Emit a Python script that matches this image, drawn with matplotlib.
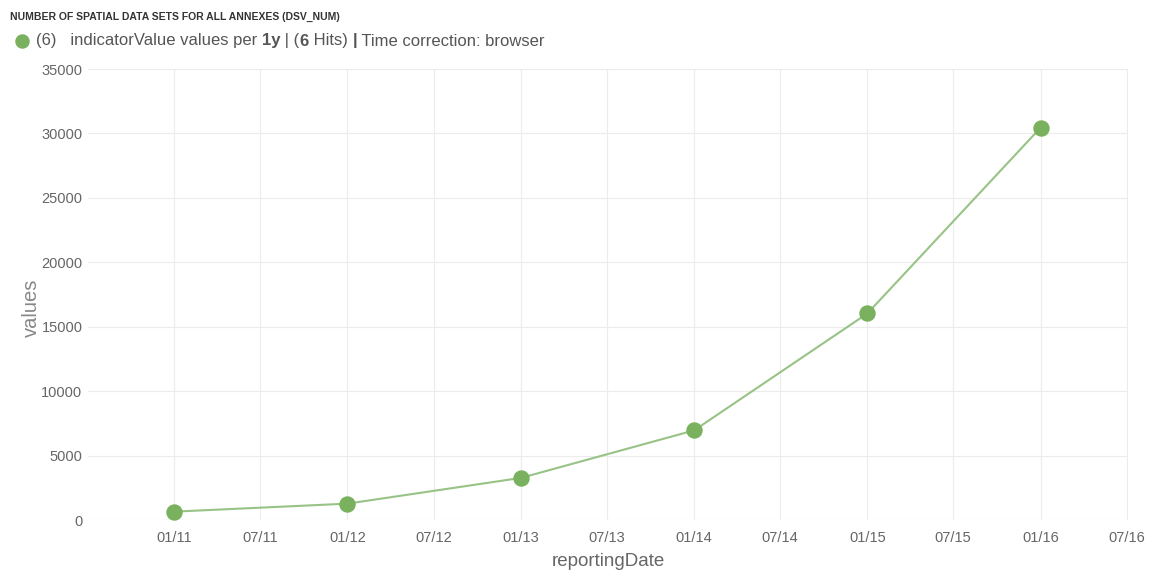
import numpy as np
import matplotlib
matplotlib.use("Agg")
import matplotlib.pyplot as plt
import matplotlib.dates as mdates
from matplotlib.lines import Line2D
from datetime import datetime

plt.rcParams['font.family'] = ['Liberation Sans', 'DejaVu Sans']

# data
dates = [datetime(2011, 1, 1), datetime(2012, 1, 1), datetime(2013, 1, 1),
         datetime(2014, 1, 1), datetime(2015, 1, 1), datetime(2016, 1, 1)]
values = [650, 1270, 3270, 6960, 16030, 30440]
yticks = [0, 5000, 10000, 15000, 20000, 25000, 30000, 35000]

green = '#79b15e'
line_green = '#98c386'

fig = plt.figure(figsize=(11.52, 5.76), dpi=100)
ax = fig.add_axes([0.0764, 0.0972, 0.903, 0.783])

ax.plot(dates, values, color=line_green, lw=1.5, zorder=2)
ax.plot(dates, values, 'o', color=green, ms=10.8, zorder=3)

ax.set_xlim(datetime(2010, 7, 3), datetime(2016, 7, 4))
ax.set_ylim(0, 35000)
ax.set_yticks(yticks)
ax.xaxis.set_major_locator(mdates.MonthLocator(bymonth=[1, 7]))
ax.xaxis.set_major_formatter(mdates.DateFormatter('%m/%y'))

ax.grid(True, color='#ececec', lw=0.8)
ax.set_axisbelow(True)
for s in ax.spines.values():
    s.set_visible(False)
ax.tick_params(length=0, colors='#666666', labelsize=10.5, pad=8)
ax.tick_params(axis='y', pad=4)

ax.set_xlabel('reportingDate', color='#666666', fontsize=13.5, labelpad=6)
ax.set_ylabel('values', color='#888888', fontsize=14.5)
ax.yaxis.set_label_coords(-0.045, 0.47)

fig.text(0.009, 0.970, 'NUMBER OF SPATIAL DATA SETS FOR ALL ANNEXES (DSV_NUM)',
         fontsize=7.5, fontweight='bold', color='#333333', va='center')

# legend line: green dot, then text with a few bold pieces
fig.add_artist(Line2D([22 / 1152], [1 - 41 / 576], marker='o', ms=9.4,
                      color=green, transform=fig.transFigure))

parts = [('(6)   indicatorValue values per ', 'normal'), ('1y', 'bold'),
         (' | (', 'normal'), ('6', 'bold'), (' Hits) ', 'normal'),
         ('|', 'bold'), (' Time correction: browser', 'normal')]
renderer = fig.canvas.get_renderer()
x = 36 / 1152
for txt, w in parts:
    t = fig.text(x, 1 - 41 / 576, txt, fontsize=12, fontweight=w,
                 color='#555555', va='center')
    bb = t.get_window_extent(renderer=renderer)
    x = fig.transFigure.inverted().transform((bb.x1, bb.y0))[0]

fig.savefig('out.png', dpi=100, facecolor='white')
